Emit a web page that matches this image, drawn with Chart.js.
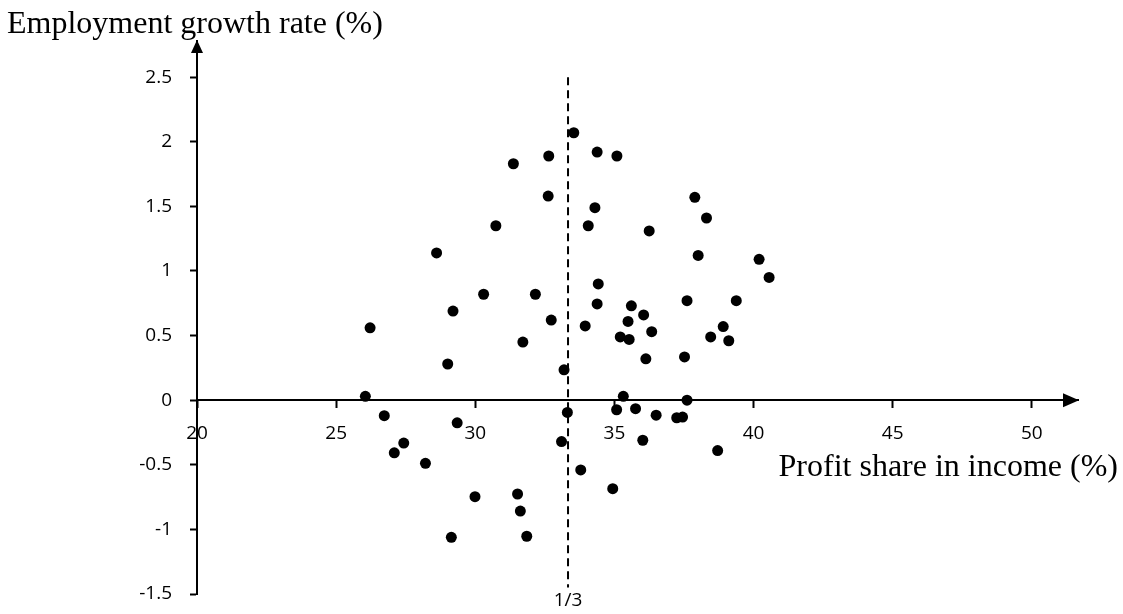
<!DOCTYPE html>
<html>
<head>
<meta charset="utf-8">
<script src="https://cdn.jsdelivr.net/npm/chart.js"></script>
<style>
  body { margin: 0; background: #fff; }
</style>
</head>
<body>
<canvas id="chart" width="1123" height="614"></canvas>
<script>
// values
const profitShare = [28.61, 33.54, 32.64, 31.37, 34.38, 35.09, 32.62, 37.89, 34.30, 30.74,
  34.06, 38.31, 36.25, 38.01, 40.20, 40.56, 29.20, 26.22, 29.01, 26.05,
  26.73, 29.35, 30.30, 32.16, 34.42, 32.73, 34.38, 35.61, 37.61, 39.38,
  33.95, 35.49, 36.05, 36.34, 38.91, 35.21, 35.53, 38.46, 39.11, 31.71,
  36.13, 37.52, 33.19, 35.32, 37.61, 35.08, 33.31, 35.76, 36.50, 37.24,
  37.45, 33.10, 36.02, 38.71, 33.79, 34.94, 29.99, 31.52, 31.62, 31.85,
  27.09, 27.43, 28.21, 29.14];
const employmentGrowth = [1.14, 2.07, 1.89, 1.83, 1.92, 1.89, 1.58, 1.57, 1.49, 1.35,
  1.35, 1.41, 1.31, 1.12, 1.09, 0.95, 0.69, 0.56, 0.28, 0.03,
  -0.12, -0.175, 0.82, 0.82, 0.90, 0.62, 0.745, 0.73, 0.77, 0.77,
  0.575, 0.61, 0.66, 0.53, 0.57, 0.49, 0.47, 0.49, 0.46, 0.45,
  0.32, 0.335, 0.235, 0.03, 0.0, -0.074, -0.095, -0.066, -0.116, -0.136,
  -0.131, -0.32, -0.31, -0.39, -0.54, -0.685, -0.747, -0.726, -0.858, -1.053,
  -0.407, -0.332, -0.489, -1.061];
const xTicks = [20, 25, 30, 35, 40, 45, 50];
const yTicks = [-1.5, -1, -0.5, 0, 0.5, 1, 1.5, 2, 2.5];
const thirdShare = 100 / 3;
const xTitle = 'Profit share in income (%)';
const yTitle = 'Employment growth rate (%)';

const points = profitShare.map((x, i) => ({ x: x, y: employmentGrowth[i] }));

const tickFont = { family: "'Open Sans', sans-serif", size: 19 };
const titleFont = "32px 'Liberation Serif', 'Times New Roman', serif";

// arrow heads, axis titles and the 1/3 label
const decorations = {
  id: 'decorations',
  afterDraw(chart) {
    const { ctx, chartArea, scales } = chart;
    const x0 = scales.x.getPixelForValue(20);
    const y0 = scales.y.getPixelForValue(0);
    ctx.save();
    ctx.fillStyle = '#000';

    ctx.beginPath();
    ctx.moveTo(chartArea.right + 1, y0);
    ctx.lineTo(chartArea.right - 15, y0 - 7);
    ctx.lineTo(chartArea.right - 15, y0 + 7);
    ctx.closePath();
    ctx.fill();

    ctx.beginPath();
    ctx.moveTo(x0, chartArea.top - 1);
    ctx.lineTo(x0 - 6, chartArea.top + 12);
    ctx.lineTo(x0 + 6, chartArea.top + 12);
    ctx.closePath();
    ctx.fill();

    ctx.font = titleFont;
    ctx.textBaseline = 'alphabetic';
    ctx.textAlign = 'left';
    ctx.fillText(yTitle, 7, 33);
    ctx.textAlign = 'right';
    ctx.fillText(xTitle, 1118, 476);

    ctx.font = "19px 'Open Sans', sans-serif";
    ctx.textAlign = 'center';
    ctx.textBaseline = 'middle';
    ctx.fillText('1/3', scales.x.getPixelForValue(thirdShare), 601);
    ctx.restore();
  }
};

new Chart(document.getElementById('chart'), {
  type: 'scatter',
  data: {
    datasets: [
      {
        data: points,
        backgroundColor: '#000',
        borderWidth: 0,
        pointRadius: 5.5
      },
      {
        type: 'line',
        data: [{ x: thirdShare, y: 2.5 }, { x: thirdShare, y: -1.45 }],
        borderColor: '#000',
        borderWidth: 2,
        borderDash: [8, 5],
        pointRadius: 0,
        fill: false
      }
    ]
  },
  options: {
    responsive: false,
    animation: false,
    layout: { padding: { left: 137, top: 41, right: 45, bottom: 20 } },
    plugins: {
      legend: { display: false },
      tooltip: { enabled: false }
    },
    scales: {
      x: {
        type: 'linear',
        position: { y: 0 },
        min: 20,
        max: 51.66,
        afterBuildTicks: axis => { axis.ticks = xTicks.map(v => ({ value: v })); },
        grid: { drawOnChartArea: false, drawTicks: true, tickLength: 7, tickColor: '#000', tickWidth: 2 },
        border: { display: true, color: '#000', width: 2 },
        ticks: { color: '#000', font: tickFont, padding: 15, maxRotation: 0, callback: v => String(v) }
      },
      y: {
        type: 'linear',
        position: 'left',
        min: -1.5,
        max: 2.78,
        afterBuildTicks: axis => { axis.ticks = yTicks.map(v => ({ value: v })); },
        afterFit: axis => {
          axis.width = 60;
          axis.paddingTop = 0;
          axis.paddingBottom = 0;
        },
        grid: { drawOnChartArea: false, drawTicks: true, tickLength: 7, tickColor: '#000', tickWidth: 2 },
        border: { display: true, color: '#000', width: 2 },
        ticks: { color: '#000', font: tickFont, padding: 18, callback: v => String(v) }
      }
    }
  },
  plugins: [decorations]
});
</script>
</body>
</html>
